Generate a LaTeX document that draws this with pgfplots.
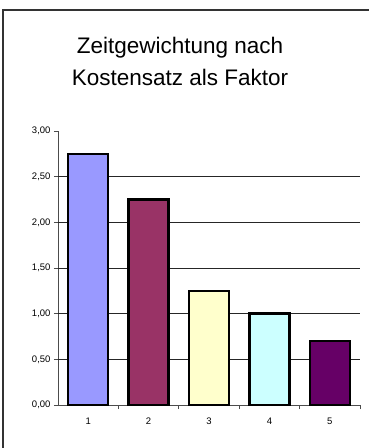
\documentclass[border=0pt]{standalone}
\usepackage{pgfplots}
\pgfplotsset{compat=1.18}
\usepackage{fontspec}
\setmainfont{Liberation Sans}
\definecolor{c1}{HTML}{9999FF}
\definecolor{c2}{HTML}{993366}
\definecolor{c3}{HTML}{FFFFCC}
\definecolor{c4}{HTML}{CCFFFF}
\definecolor{c5}{HTML}{660066}
\begin{document}
\begin{tikzpicture}[x=1pt,y=1pt]
\path[use as bounding box] (0,0) rectangle (369,448);
\draw[line width=1.4pt, black!80] (3,0) -- (3,438) -- (369,438);
\node[font=\fontsize{22.5}{26}\selectfont] at (180,400) {Zeitgewichtung nach};
\node[font=\fontsize{22.5}{26}\selectfont] at (180,371) {Kostensatz als Faktor};
\begin{axis}[
  at={(58pt,43pt)}, anchor=origin,
  scale only axis, width=302pt, height=274pt,
  xmin=0.5, xmax=5.5, ymin=0, ymax=3,
  axis x line=bottom, axis y line=left,
  axis line style={-, black!70, line width=0.6pt},
  xtick={1,2,3,4,5},
  xticklabels={1,2,3,4,5},
  minor xtick={1.5,2.5,3.5,4.5,5.5},
  major x tick style={draw=none},
  minor x tick style={black!70, line width=0.6pt},
  minor tick length=4pt,
  ytick={0,0.5,1,1.5,2,2.5,3},
  y tick style={black!70, line width=0.6pt},
  major tick length=4pt,
  tick align=outside,
  extra y ticks={0.5,1,1.5,2,2.5},
  extra y tick labels={},
  extra y tick style={grid=major, major tick length=0pt},
  grid style={black!85, line width=0.6pt},
  yticklabel style={/pgf/number format/.cd, fixed, fixed zerofill, precision=2, use comma},
  /pgf/number format/assume math mode=true,
  tick label style={font=\fontsize{9.5}{11}\selectfont},
  xticklabel style={yshift=-5pt},
  ybar, bar width=40pt, bar shift=0pt,
  every axis plot/.append style={draw=black, line width=2.4pt},
]
\addplot[fill=c1] coordinates {(1,2.75)};
\addplot[fill=c2] coordinates {(2,2.25)};
\addplot[fill=c3] coordinates {(3,1.25)};
\addplot[fill=c4] coordinates {(4,1.00)};
\addplot[fill=c5] coordinates {(5,0.70)};
\end{axis}
\end{tikzpicture}
\end{document}
